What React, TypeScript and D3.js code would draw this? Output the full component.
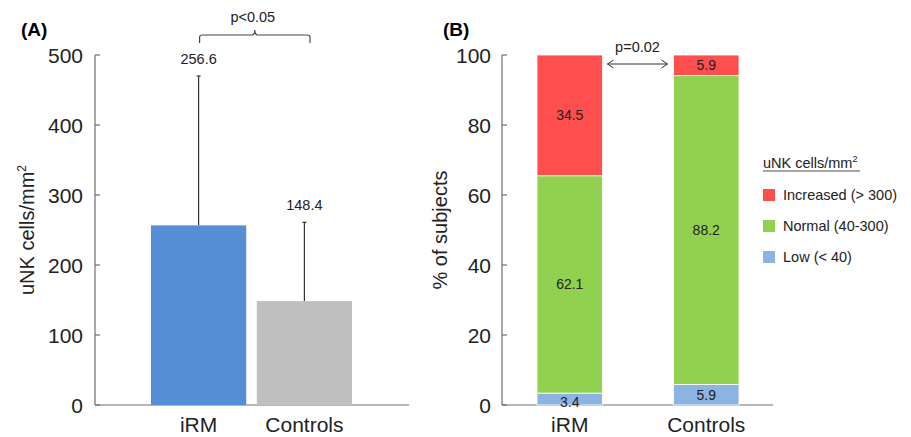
import React, { useEffect, useRef } from "react";
import * as d3 from "d3";

// Panel A: mean uNK cell density
const groups = ["iRM", "Controls"];
const meanValues = [256.6, 148.4];
const errorTops = [470, 261];
const barColorsA = ["#558ed5", "#bfbfbf"];
const ticksA = [0, 100, 200, 300, 400, 500];

// Panel B: % of subjects per category
const categoryKeys = ["low", "normal", "increased"];
const categoryNames = ["Low (< 40)", "Normal (40-300)", "Increased (> 300)"];
const categoryColors = ["#8db3e2", "#92d050", "#fe4e4e"];
const lowPct = [3.4, 5.9];
const normalPct = [62.1, 88.2];
const increasedPct = [34.5, 5.9];
const ticksB = [0, 20, 40, 60, 80, 100];

const FONT = "'Liberation Sans', Arial, sans-serif";
const AXIS = "#6e6e6e";

export default function App() {
  const ref = useRef<SVGSVGElement>(null);

  useEffect(() => {
    const svg = d3.select(ref.current);
    svg.selectAll("*").remove();

    // ---------- Panel A ----------
    const yA = d3.scaleLinear().domain([0, 500]).range([405, 55]);
    const xA = d3.scaleBand().domain(groups).range([151, 352]).paddingInner(0.1);
    const gA = svg.append("g");

    gA.append("text").attr("x", 21).attr("y", 36).text("(A)")
      .style("font-family", FONT).style("font-weight", "bold").style("font-size", "19px");

    // axes
    gA.append("line").attr("x1", 95).attr("x2", 95).attr("y1", yA(500)).attr("y2", yA(0))
      .attr("stroke", AXIS).attr("stroke-width", 1.2);
    gA.append("line").attr("x1", 95).attr("x2", 409).attr("y1", yA(0)).attr("y2", yA(0))
      .attr("stroke", AXIS).attr("stroke-width", 1.2);
    ticksA.forEach((t) => {
      gA.append("line").attr("x1", 95).attr("x2", 100).attr("y1", yA(t)).attr("y2", yA(t))
        .attr("stroke", AXIS).attr("stroke-width", 1.2);
      gA.append("text").attr("x", 83).attr("y", yA(t)).attr("dy", "0.36em")
        .attr("text-anchor", "end").text(t)
        .style("font-family", FONT).style("font-size", "21px").attr("fill", "#222");
    });

    gA.append("text")
      .attr("transform", `translate(34,230) rotate(-90)`)
      .attr("text-anchor", "middle")
      .style("font-family", FONT).style("font-size", "20px").attr("fill", "#222")
      .text("uNK cells/mm")
      .append("tspan").attr("dy", "-8").style("font-size", "12px").text("2");

    groups.forEach((g, i) => {
      const x = xA(g)!;
      const cx = x + xA.bandwidth() / 2;
      gA.append("line").attr("x1", cx).attr("x2", cx).attr("y1", yA(meanValues[i])).attr("y2", yA(errorTops[i]))
        .attr("stroke", "#333").attr("stroke-width", 1.2);
      gA.append("line").attr("x1", cx - 2).attr("x2", cx + 2).attr("y1", yA(errorTops[i])).attr("y2", yA(errorTops[i]))
        .attr("stroke", "#333").attr("stroke-width", 1.2);
      gA.append("rect").attr("x", x).attr("width", xA.bandwidth())
        .attr("y", yA(meanValues[i])).attr("height", yA(0) - yA(meanValues[i]))
        .attr("fill", barColorsA[i]);
      gA.append("text").attr("x", cx).attr("y", yA(errorTops[i]) - 12).attr("text-anchor", "middle")
        .text(meanValues[i].toFixed(1))
        .style("font-family", FONT).style("font-size", "14.5px").attr("fill", "#222");
      gA.append("text").attr("x", cx).attr("y", 432).attr("text-anchor", "middle").text(g)
        .style("font-family", FONT).style("font-size", "21px").attr("fill", "#222");
    });

    // significance bracket
    const bx1 = xA("iRM")! + xA.bandwidth() / 2 + 1;
    const bx2 = 310;
    const bmid = (bx1 + bx2) / 2;
    gA.append("path")
      .attr("d", `M${bx1},43 L${bx1},37 Q${bx1},35 ${bx1 + 3},35 L${bmid - 3},35 Q${bmid},35 ${bmid},30 Q${bmid},35 ${bmid + 3},35 L${bx2 - 3},35 Q${bx2},35 ${bx2},37 L${bx2},43`)
      .attr("fill", "none").attr("stroke", "#444").attr("stroke-width", 1.2);
    gA.append("text").attr("x", bmid - 2).attr("y", 22).attr("text-anchor", "middle").text("p<0.05")
      .style("font-family", FONT).style("font-size", "14.5px").attr("fill", "#222");

    // ---------- Panel B ----------
    const yB = d3.scaleLinear().domain([0, 100]).range([405, 55]);
    const xB = d3.scaleBand().domain(groups).range([537, 739]).paddingInner(0.52);
    const gB = svg.append("g");

    gB.append("text").attr("x", 443).attr("y", 36).text("(B)")
      .style("font-family", FONT).style("font-weight", "bold").style("font-size", "19px");

    gB.append("line").attr("x1", 502).attr("x2", 502).attr("y1", yB(100)).attr("y2", yB(0))
      .attr("stroke", AXIS).attr("stroke-width", 1.2);
    gB.append("line").attr("x1", 502).attr("x2", 773).attr("y1", yB(0)).attr("y2", yB(0))
      .attr("stroke", AXIS).attr("stroke-width", 1.2);
    ticksB.forEach((t) => {
      gB.append("line").attr("x1", 502).attr("x2", 507).attr("y1", yB(t)).attr("y2", yB(t))
        .attr("stroke", AXIS).attr("stroke-width", 1.2);
      gB.append("text").attr("x", 491).attr("y", yB(t)).attr("dy", "0.36em")
        .attr("text-anchor", "end").text(t)
        .style("font-family", FONT).style("font-size", "21px").attr("fill", "#222");
    });

    gB.append("text")
      .attr("transform", `translate(447,230) rotate(-90)`)
      .attr("text-anchor", "middle")
      .style("font-family", FONT).style("font-size", "20px").attr("fill", "#222")
      .text("% of subjects");

    const rows = groups.map((g, i) => ({
      group: g,
      low: lowPct[i],
      normal: normalPct[i],
      increased: increasedPct[i],
    }));
    const series = d3.stack<any>().keys(categoryKeys)(rows);

    series.forEach((s, k) => {
      s.forEach((d) => {
        const g = d.data.group;
        const x = xB(g)!;
        gB.append("rect").attr("x", x).attr("width", xB.bandwidth())
          .attr("y", yB(d[1])).attr("height", yB(d[0]) - yB(d[1]))
          .attr("fill", categoryColors[k]).attr("stroke", "#ffffff").attr("stroke-width", 0.8);
        const v = d[1] - d[0];
        gB.append("text").attr("x", x + xB.bandwidth() / 2)
          .attr("y", (yB(d[0]) + yB(d[1])) / 2 + (k === 0 && v < 5 ? 3 : 0))
          .attr("dy", "0.36em").attr("text-anchor", "middle")
          .text(v.toFixed(1))
          .style("font-family", FONT).style("font-size", "14px").attr("fill", "#222");
      });
    });

    groups.forEach((g) => {
      gB.append("text").attr("x", xB(g)! + xB.bandwidth() / 2).attr("y", 432).attr("text-anchor", "middle").text(g)
        .style("font-family", FONT).style("font-size", "21px").attr("fill", "#222");
    });

    // p-value arrow
    const ax1 = xB("iRM")! + xB.bandwidth() + 5;
    const ax2 = xB("Controls")! - 6;
    const ay = 64;
    gB.append("line").attr("x1", ax1).attr("x2", ax2).attr("y1", ay).attr("y2", ay)
      .attr("stroke", "#333").attr("stroke-width", 1);
    gB.append("path").attr("d", `M${ax1 + 6},${ay - 4} L${ax1},${ay} L${ax1 + 6},${ay + 4}`)
      .attr("fill", "none").attr("stroke", "#333").attr("stroke-width", 1);
    gB.append("path").attr("d", `M${ax2 - 6},${ay - 4} L${ax2},${ay} L${ax2 - 6},${ay + 4}`)
      .attr("fill", "none").attr("stroke", "#333").attr("stroke-width", 1);
    gB.append("text").attr("x", (ax1 + ax2) / 2).attr("y", 52).attr("text-anchor", "middle").text("p=0.02")
      .style("font-family", FONT).style("font-size", "14.5px").attr("fill", "#222");

    // legend
    const lg = gB.append("g").attr("transform", "translate(763,0)");
    const title = lg.append("text").attr("x", 0).attr("y", 168)
      .style("font-family", FONT).style("font-size", "14.5px").attr("fill", "#222")
      .text("uNK cells/mm");
    title.append("tspan").attr("dy", "-6").style("font-size", "9px").text("2");
    lg.append("line").attr("x1", 0).attr("x2", 97).attr("y1", 171).attr("y2", 171)
      .attr("stroke", "#222").attr("stroke-width", 0.8);
    [2, 1, 0].forEach((k, j) => {
      const yy = 195 + j * 31;
      lg.append("rect").attr("x", 0).attr("y", yy - 6).attr("width", 12).attr("height", 12)
        .attr("fill", categoryColors[k]);
      lg.append("text").attr("x", 20).attr("y", yy).attr("dy", "0.36em").text(categoryNames[k])
        .style("font-family", FONT).style("font-size", "14.5px").attr("fill", "#222");
    });
  }, []);

  return (
    <svg
      ref={ref}
      width={911}
      height={437}
      style={{ position: "absolute", left: 0, top: 0, background: "#ffffff" }}
    />
  );
}
